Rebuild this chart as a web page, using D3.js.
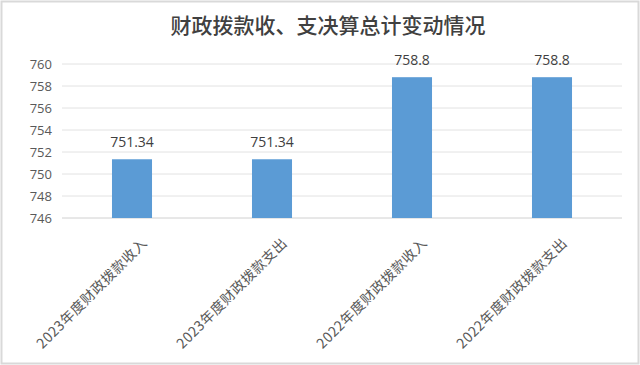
<!DOCTYPE html>
<html>
<head>
<meta charset="utf-8">
<script src="https://cdnjs.cloudflare.com/ajax/libs/d3/7.8.5/d3.min.js"></script>
<style>
  body { margin: 0; background: #fff; }
  svg { display: block; font-family: "Open Sans", "Noto Sans CJK SC", sans-serif; }
  .tick text { fill: #595959; font-size: 13px; }
  .value-label { fill: #404040; font-size: 14px; }
  .cat-label { fill: #595959; font-size: 14px; font-family: "Noto Sans CJK SC", sans-serif; letter-spacing: 0.5px; }
</style>
</head>
<body>
<div id="chart"></div>
<script>
  const categories = ["2023年度财政拨款收入", "2023年度财政拨款支出", "2022年度财政拨款收入", "2022年度财政拨款支出"];
  const values = [751.34, 751.34, 758.8, 758.8];
  const yTicks = [746, 748, 750, 752, 754, 756, 758, 760];
  const title = "财政拨款收、支决算总计变动情况";

  const W = 640, H = 365;
  const margin = { top: 64, right: 18, bottom: 147, left: 62 };
  const width = W - margin.left - margin.right;
  const height = H - margin.top - margin.bottom;

  const root = d3.select("#chart").append("svg")
    .attr("width", W)
    .attr("height", H);

  // outer border of the chart area
  root.append("rect")
    .attr("x", 1.5).attr("y", 1.5)
    .attr("width", W - 3).attr("height", H - 3)
    .attr("fill", "#fff")
    .attr("stroke", "#d9d9d9")
    .attr("stroke-width", 2);

  root.append("text")
    .attr("x", W / 2 + 8)
    .attr("y", 33)
    .attr("text-anchor", "middle")
    .attr("fill", "#404040")
    .style("font-family", "'Noto Sans CJK SC', serif")
    .style("font-size", "21px")
    .style("font-weight", 500)
    .text(title);

  const svg = root.append("g")
    .attr("transform", `translate(${margin.left},${margin.top})`);

  const x = d3.scaleBand()
    .domain(categories)
    .range([0, width])
    .paddingInner(0.714)
    .paddingOuter(0.357);

  const y = d3.scaleLinear()
    .domain([746, 760])
    .range([height, 0]);

  // gridlines
  svg.append("g")
    .selectAll("line")
    .data(yTicks)
    .join("line")
    .attr("x1", 0).attr("x2", width)
    .attr("y1", d => y(d)).attr("y2", d => y(d))
    .attr("stroke", d => d === 746 ? "#d0d0d0" : "#e2e2e2")
    .attr("stroke-width", 1);

  const yAxis = svg.append("g")
    .call(d3.axisLeft(y).tickValues(yTicks).tickSize(0).tickPadding(10));
  yAxis.select(".domain").remove();
  yAxis.selectAll("text").attr("font-family", "'Open Sans', sans-serif");

  svg.selectAll(".bar")
    .data(values)
    .join("rect")
    .attr("class", "bar")
    .attr("x", (d, i) => x(categories[i]))
    .attr("y", d => y(d))
    .attr("width", x.bandwidth())
    .attr("height", d => height - y(d))
    .attr("fill", "#5b9bd5");

  svg.selectAll(".value-label")
    .data(values)
    .join("text")
    .attr("class", "value-label")
    .attr("x", (d, i) => x(categories[i]) + x.bandwidth() / 2)
    .attr("y", d => y(d) - 12)
    .attr("text-anchor", "middle")
    .text(d => d);

  svg.selectAll(".cat-label")
    .data(categories)
    .join("text")
    .attr("class", "cat-label")
    .attr("text-anchor", "end")
    .attr("transform", d => `translate(${x(d) + x.bandwidth() / 2 + 16},${height + 26}) rotate(-45)`)
    .text(d => d);
</script>
</body>
</html>
